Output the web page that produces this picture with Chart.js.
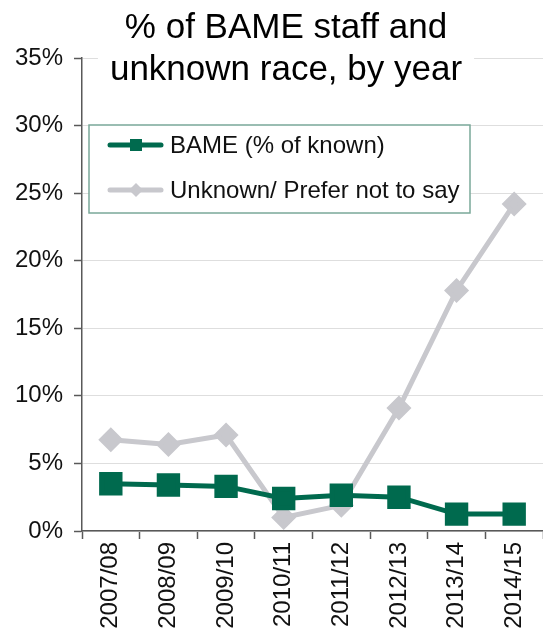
<!DOCTYPE html>
<html>
<head>
<meta charset="utf-8">
<script src="https://cdn.jsdelivr.net/npm/chart.js@4/dist/chart.umd.min.js"></script>
<style>
  html, body { margin: 0; padding: 0; background: #fff; }
  #chart { display: block; }
</style>
</head>
<body>
<canvas id="chart" width="543" height="632"></canvas>
<script>
// Data (values in %)
const years = ['2007/08', '2008/09', '2009/10', '2010/11', '2011/12', '2012/13', '2013/14', '2014/15'];
const bameValues = [3.5, 3.4, 3.3, 2.4, 2.65, 2.5, 1.25, 1.25];
const unknownValues = [6.75, 6.4, 7.1, 1.0, 1.9, 9.1, 17.8, 24.2];
const yTicks = [0, 5, 10, 15, 20, 25, 30, 35];
const titleLines = ['% of BAME staff and', 'unknown race, by year'];
const seriesNames = ['BAME (% of known)', 'Unknown/ Prefer not to say'];

const FONT = '"Liberation Sans", Arial, sans-serif';
const GREEN = '#006a4e';
const GREY = '#c8c8cd';
const AXIS = '#595959';

// Title drawn over the top of the plot, with a white box behind it
const titlePlugin = {
  id: 'boxTitle',
  beforeDatasetsDraw(chart) {
    const ctx = chart.ctx;
    ctx.save();
    ctx.font = '35px ' + FONT;
    const w = Math.max(...titleLines.map(t => ctx.measureText(t).width));
    const cx = 286;
    ctx.fillStyle = '#fff';
    ctx.fillRect(cx - w / 2 - 12, 48, w + 24, 44);
    ctx.fillStyle = '#000';
    ctx.textAlign = 'center';
    ctx.textBaseline = 'alphabetic';
    ctx.fillText(titleLines[0], cx, 38);
    ctx.fillText(titleLines[1], cx, 80);
    ctx.restore();
  }
};

// Boxed legend inside the plot area
const legendPlugin = {
  id: 'boxLegend',
  afterDatasetsDraw(chart) {
    const ctx = chart.ctx;
    ctx.save();
    ctx.fillStyle = '#fff';
    ctx.fillRect(89, 125, 381, 88);
    ctx.strokeStyle = '#7aa899';
    ctx.lineWidth = 1.5;
    ctx.strokeRect(89, 125, 381, 88);
    const rows = [145, 190];
    chart.data.datasets.forEach((ds, i) => {
      const y = rows[i];
      ctx.strokeStyle = ds.borderColor;
      ctx.lineWidth = 5;
      ctx.lineCap = 'round';
      ctx.beginPath();
      ctx.moveTo(110, y);
      ctx.lineTo(161, y);
      ctx.stroke();
      ctx.fillStyle = ds.borderColor;
      if (ds.pointStyle === 'rect') {
        ctx.fillRect(130, y - 6, 12, 12);
      } else {
        ctx.beginPath();
        ctx.moveTo(136, y - 7);
        ctx.lineTo(143, y);
        ctx.lineTo(136, y + 7);
        ctx.lineTo(129, y);
        ctx.closePath();
        ctx.fill();
      }
      ctx.fillStyle = '#111';
      ctx.font = '24px ' + FONT;
      ctx.textAlign = 'left';
      ctx.textBaseline = 'middle';
      ctx.fillText(ds.label, 170, y + 1);
    });
    ctx.restore();
  }
};

new Chart(document.getElementById('chart'), {
  type: 'line',
  data: {
    labels: years,
    datasets: [{
      label: seriesNames[0],
      data: bameValues,
      borderColor: GREEN,
      backgroundColor: GREEN,
      borderWidth: 5,
      pointStyle: 'rect',
      pointRadius: 13,
      tension: 0
    }, {
      label: seriesNames[1],
      data: unknownValues,
      borderColor: GREY,
      backgroundColor: GREY,
      borderWidth: 5,
      pointStyle: 'rectRot',
      pointRadius: 9,
      tension: 0
    }]
  },
  options: {
    responsive: false,
    animation: false,
    layout: { autoPadding: false, padding: { top: 58, right: 0, left: 0, bottom: 0 } },
    plugins: {
      legend: { display: false },
      title: { display: false },
      tooltip: { enabled: false }
    },
    scales: {
      x: {
        offset: true,
        grid: { offset: true, drawOnChartArea: false, tickColor: AXIS, tickLength: 8, tickWidth: 1.5 },
        border: { color: AXIS, width: 1.5 },
        ticks: {
          minRotation: 90, maxRotation: 90, padding: 3,
          color: '#111', font: { family: FONT, size: 24 }
        },
        afterFit(scale) {
          scale.height = 101;
          // let the plot run to the right edge like the reference
          scale.paddingLeft = 0;
          scale.paddingRight = 0;
        }
      },
      y: {
        min: 0, max: 35,
        afterBuildTicks(scale) { scale.ticks = yTicks.map(v => ({ value: v })); },
        grid: { color: '#dedede', lineWidth: 1, tickColor: AXIS, tickLength: 8, tickWidth: 1.5 },
        border: { color: AXIS, width: 1.5 },
        ticks: {
          padding: 11, color: '#111', font: { family: FONT, size: 24 },
          callback: v => v + '%'
        },
        afterFit(scale) { scale.width = 82; }
      }
    }
  },
  plugins: [titlePlugin, legendPlugin]
});
</script>
</body>
</html>
